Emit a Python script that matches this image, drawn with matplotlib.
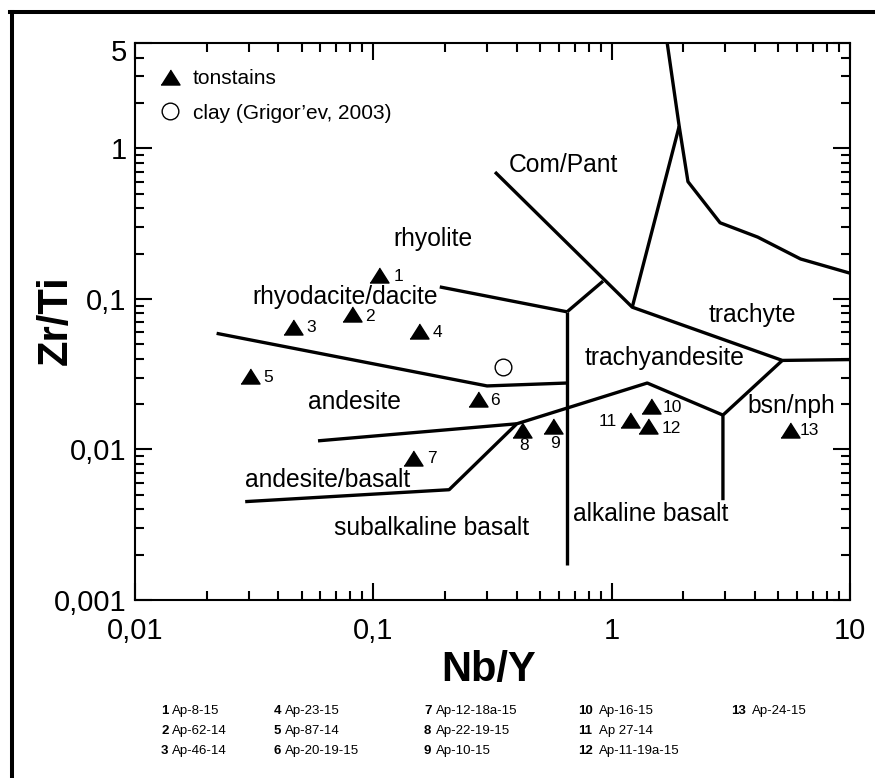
import matplotlib
matplotlib.use("Agg")
import matplotlib.pyplot as plt
from matplotlib.ticker import LogLocator, FixedLocator, FuncFormatter, NullFormatter
from matplotlib.lines import Line2D
from matplotlib.transforms import ScaledTranslation

plt.rcParams['font.family'] = ['Liberation Sans', 'DejaVu Sans']

W, H = 875, 778

# Tonstain samples (Nb/Y, Zr/Ti)
sample_no = [1, 2, 3, 4, 5, 6, 7, 8, 9, 10, 11, 12, 13]
sample_names = ["Ap-8-15", "Ap-62-14", "Ap-46-14", "Ap-23-15", "Ap-87-14", "Ap-20-19-15",
                "Ap-12-18a-15", "Ap-22-19-15", "Ap-10-15", "Ap-16-15", "Ap 27-14",
                "Ap-11-19a-15", "Ap-24-15"]
nb_y = [0.106, 0.081, 0.046, 0.156, 0.0305, 0.274, 0.147, 0.42, 0.57, 1.46, 1.19, 1.42, 5.58]
zr_ti = [0.144, 0.079, 0.0655, 0.061, 0.0305, 0.0215, 0.0088, 0.0135, 0.0143, 0.0193,
         0.0156, 0.0142, 0.0135]

# Clay (Grigor'ev, 2003)
clay_nb_y = [0.35]
clay_zr_ti = [0.0355]

# Field boundaries of the Winchester & Floyd diagram
bound_x = [
    [0.022, 0.30, 0.65],
    [0.19, 0.65],
    [0.65, 0.65],
    [0.65, 0.92],
    [0.324, 1.22, 5.2, 10],
    [1.22, 1.92],
    [1.71, 1.92, 2.09, 2.85, 4.1, 6.2, 10],
    [5.2, 2.93, 2.93],
    [2.93, 1.41, 0.40, 0.208, 0.029],
    [0.0586, 0.40],
]
bound_y = [
    [0.059, 0.0264, 0.0276],
    [0.12, 0.082],
    [0.082, 0.0017],
    [0.082, 0.131],
    [0.695, 0.088, 0.039, 0.0395],
    [0.088, 1.40],
    [5, 1.40, 0.60, 0.32, 0.257, 0.184, 0.148],
    [0.039, 0.0169, 0.0046],
    [0.0169, 0.0276, 0.0148, 0.0054, 0.0045],
    [0.0114, 0.0148],
]

field_names = ["rhyolite", "rhyodacite/dacite", "Com/Pant", "trachyte", "trachyandesite",
               "bsn/nph", "andesite", "andesite/basalt", "subalkaline basalt", "alkaline basalt"]
field_x = [0.178, 0.076, 0.63, 3.9, 1.67, 5.7, 0.083, 0.0645, 0.176, 1.46]
field_y = [0.25, 0.103, 0.77, 0.078, 0.0405, 0.0194, 0.0206, 0.0063, 0.0030, 0.0037]

# label placement for the sample numbers: (ha, dx, dy) in pixels
num_pos = {1: ('left', 14, -1.5), 2: ('left', 14, -2.5), 3: ('left', 13, -0.5),
           4: ('left', 13, -1), 5: ('left', 13, -1), 6: ('left', 12.5, -1),
           7: ('left', 14, -1), 8: ('center', 2, -15.5), 9: ('center', 1.5, -17),
           10: ('left', 11.5, -1.5), 11: ('right', -13, -1.5), 12: ('left', 14, -2),
           13: ('left', 10.5, -1)}

tri = [(-1, -0.79), (1, -0.79), (0, 0.79)]

fig = plt.figure(figsize=(W/100, H/100), dpi=100)
ax = fig.add_axes([135/W, 1-600/H, 715/W, 557/H])

for bx, by in zip(bound_x, bound_y):
    ax.plot(bx, by, color="black", lw=2.4, solid_capstyle="butt")

ax.plot(nb_y, zr_ti, linestyle="None", marker=tri, markersize=13.7, color="black",
        label="tonstains")
ax.plot(clay_nb_y, clay_zr_ti, linestyle="None", marker="o", markersize=12,
        markerfacecolor="white", markeredgecolor="black", markeredgewidth=1.0,
        label="clay (Grigor\u2019ev, 2003)")

for n, x, y in zip(sample_no, nb_y, zr_ti):
    ha, dx, dy = num_pos[n]
    ax.annotate(str(n), (x, y), xytext=(dx, dy), textcoords="offset pixels",
                ha=ha, va="center", fontsize=12.5)

for name, x, y in zip(field_names, field_x, field_y):
    ax.text(x, y, name, ha="center", va="center", fontsize=17.7)

ax.set_xscale("log")
ax.set_yscale("log")
ax.set_xlim(0.01, 10)
ax.set_ylim(0.001, 5)

fmt = FuncFormatter(lambda v, _: ("%g" % v).replace(".", ","))
ax.xaxis.set_major_locator(FixedLocator([0.01, 0.1, 1, 10]))
ax.yaxis.set_major_locator(FixedLocator([0.001, 0.01, 0.1, 1, 5]))
ax.xaxis.set_major_formatter(fmt)
ax.yaxis.set_major_formatter(fmt)
ax.xaxis.set_minor_locator(LogLocator(subs=range(2, 10)))
ax.yaxis.set_minor_locator(LogLocator(subs=range(2, 10)))
ax.xaxis.set_minor_formatter(NullFormatter())
ax.yaxis.set_minor_formatter(NullFormatter())

ax.tick_params(which="both", direction="in", top=True, right=True, width=1.5)
ax.tick_params(which="major", length=12.5, labelsize=21)
ax.tick_params(which="minor", length=6.5)
ax.tick_params(axis="x", which="major", pad=12)
ax.tick_params(axis="y", which="major", pad=6)
for sp in ax.spines.values():
    sp.set_linewidth(1.5)

# the top label "5" sits a little below the frame corner
top_lbl = ax.yaxis.get_major_ticks()[-1].label1
top_lbl.set_transform(top_lbl.get_transform() + ScaledTranslation(0, -0.07, fig.dpi_scale_trans))

ax.set_xlabel("Nb/Y", fontsize=30, fontweight="bold", va="center")
ax.set_ylabel("Zr/Ti", fontsize=30, fontweight="bold", va="center")
ax.xaxis.set_label_coords((489-135)/715, (600-670)/557)
ax.yaxis.set_label_coords((56-135)/715, (600-320)/557)

ax.legend(loc="upper left", bbox_to_anchor=(0.0343, 0.9533), frameon=False, fontsize=15,
          numpoints=1, handlelength=1.0, handletextpad=0.6, labelspacing=0.75,
          borderpad=0, borderaxespad=0)

# sample key under the plot
col_num_x = [161, 274, 424, 578, 731]
col_name_x = [172, 285, 436, 599, 752]
row_y = [711, 731, 751]
for i, (n, name) in enumerate(zip(sample_no, sample_names)):
    c, r = i // 3, i % 3
    fig.text(col_num_x[c]/W, 1-row_y[r]/H, str(n), fontsize=9.5, fontweight="bold",
             va="center", ha="left")
    fig.text(col_name_x[c]/W, 1-row_y[r]/H, name, fontsize=9.5, va="center", ha="left")

# outer frame (left and top edges)
fig.add_artist(Line2D([11.5/W, 11.5/W], [0, 1-12/H], color="black", lw=2.9,
                      transform=fig.transFigure))
fig.add_artist(Line2D([10/W, 1], [1-12/H, 1-12/H], color="black", lw=2.9,
                      transform=fig.transFigure))

fig.savefig("out.png", dpi=100)
